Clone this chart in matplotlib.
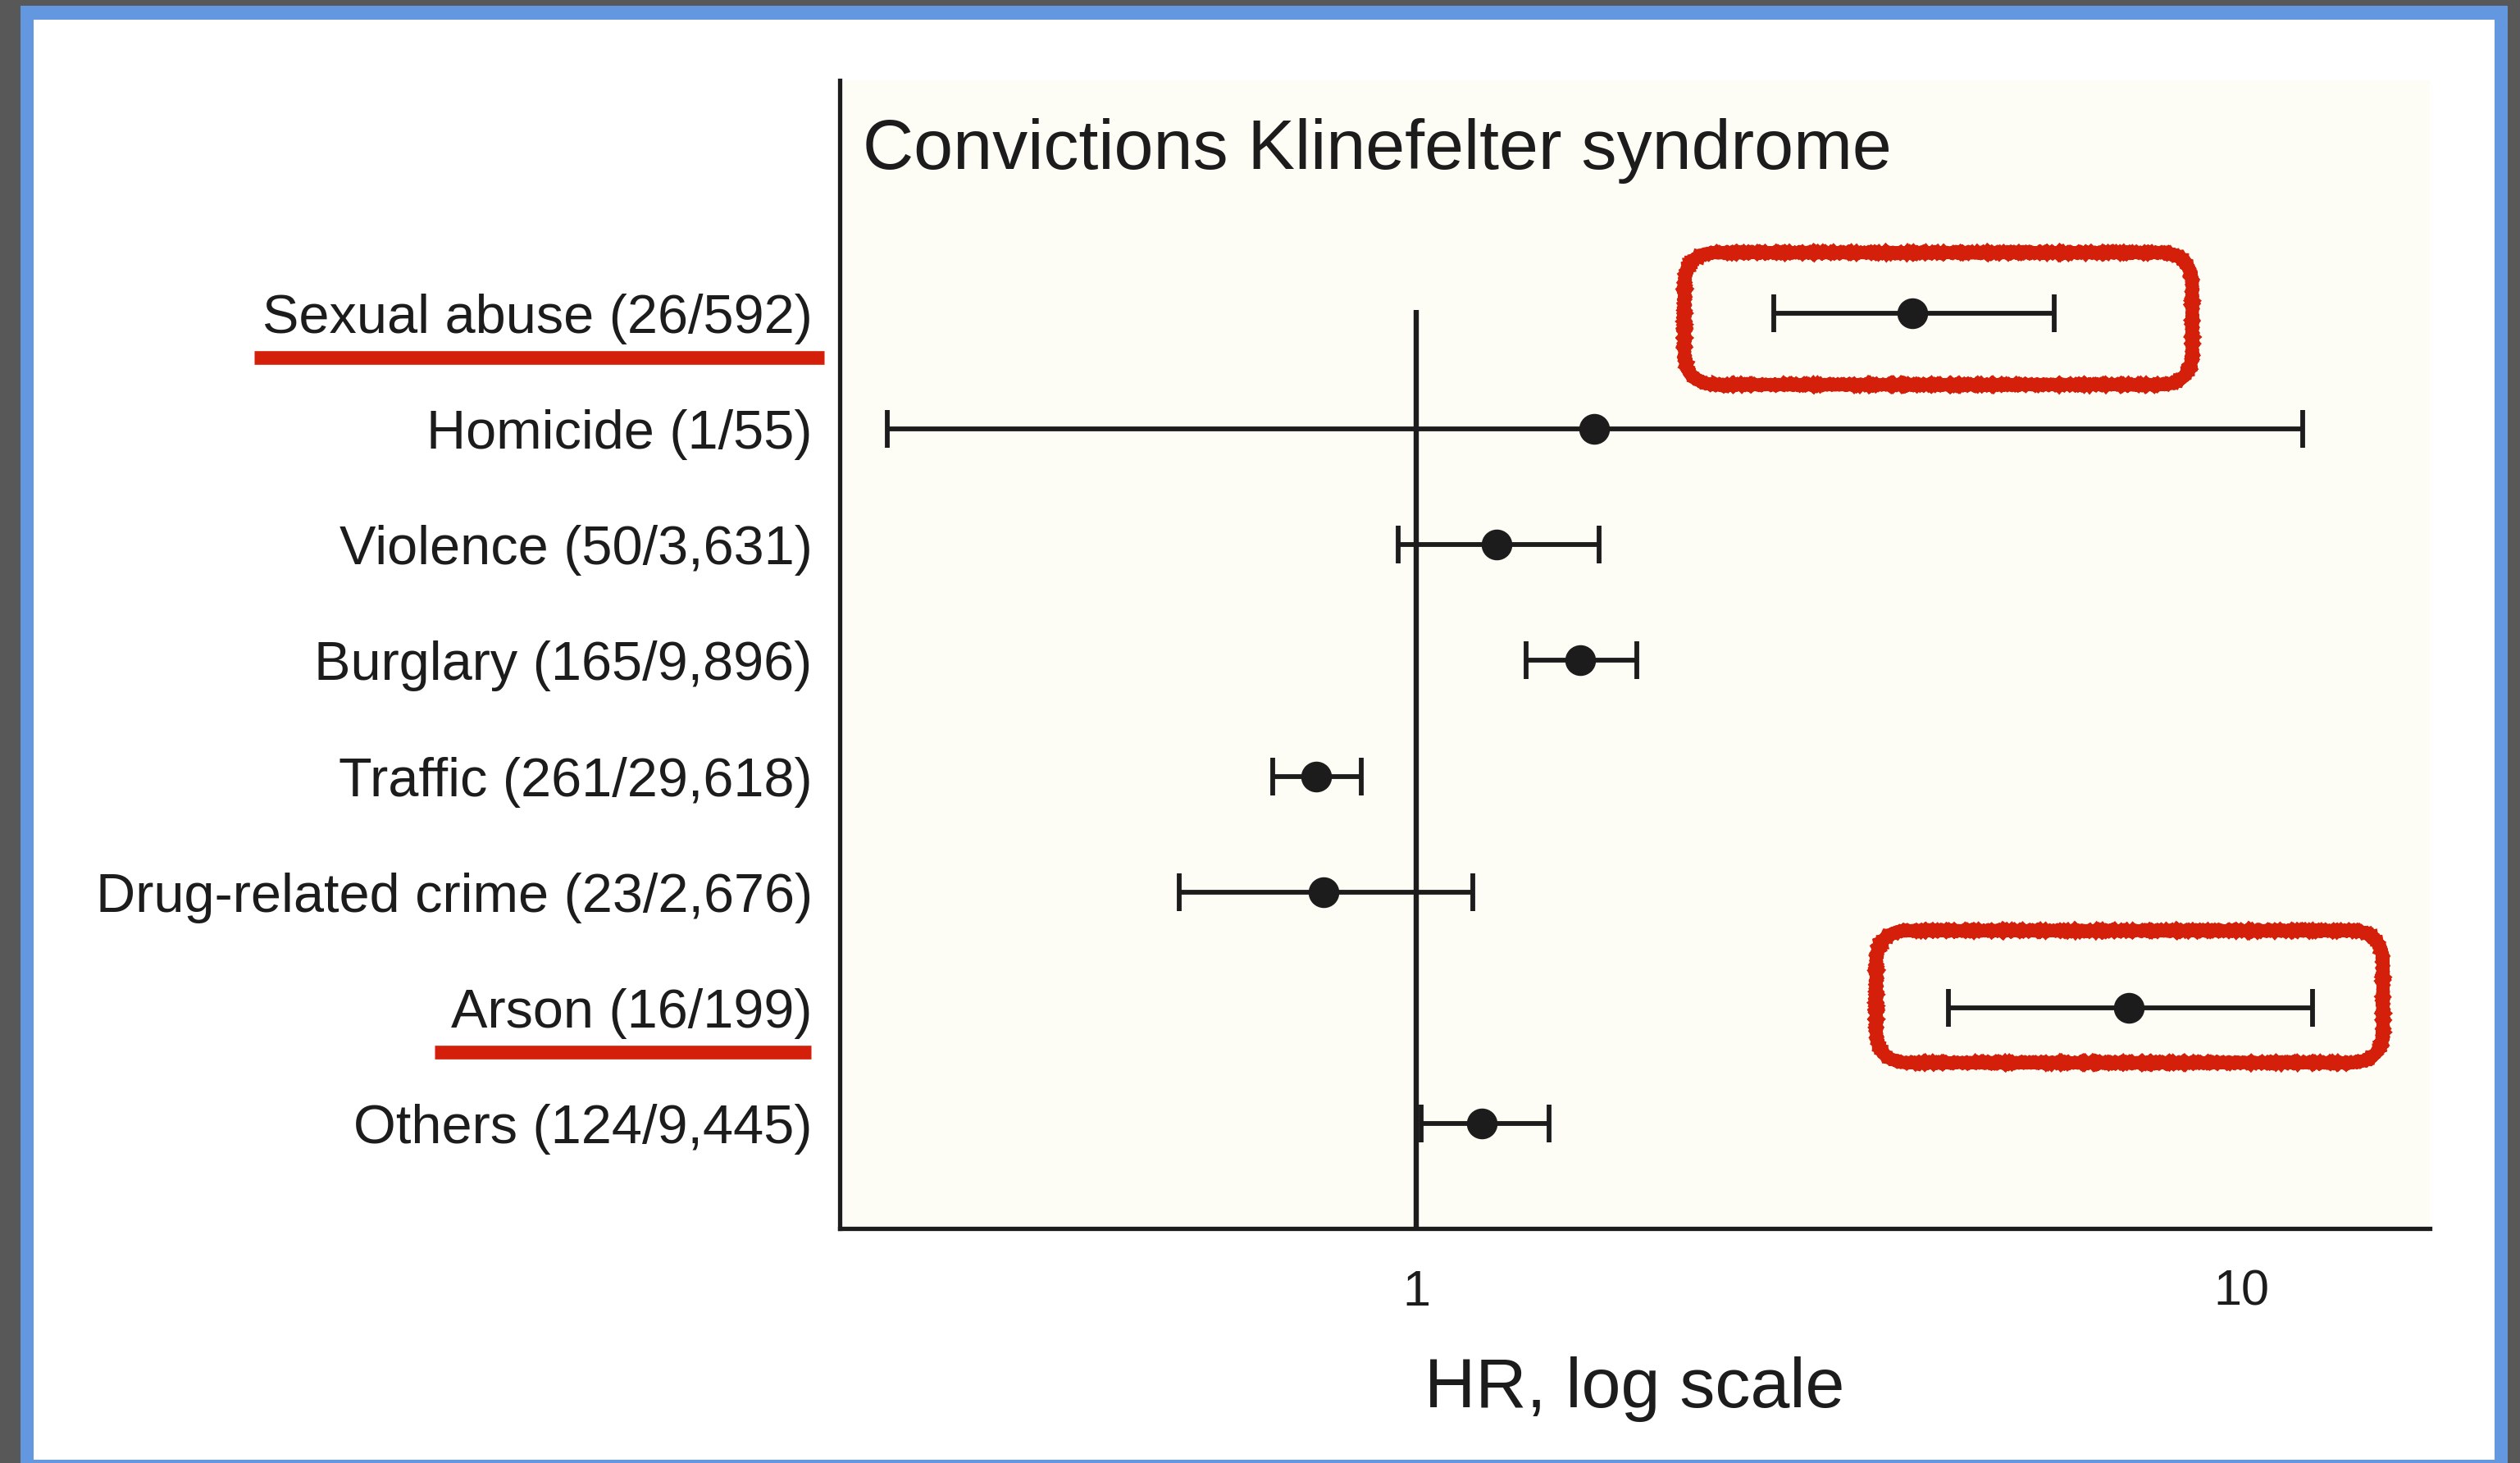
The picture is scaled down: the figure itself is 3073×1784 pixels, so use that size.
import matplotlib
matplotlib.use("Agg")
import matplotlib.pyplot as plt
from matplotlib.patches import Rectangle, FancyBboxPatch
from matplotlib.lines import Line2D
from matplotlib.ticker import NullLocator
from matplotlib.transforms import IdentityTransform
import numpy as np

plt.rcParams['font.family'] = ['Liberation Sans', 'DejaVu Sans']

# data (HR with 95% CI)
labels = ["Sexual abuse (26/592)", "Homicide (1/55)", "Violence (50/3,631)",
          "Burglary (165/9,896)", "Traffic (261/29,618)",
          "Drug-related crime (23/2,676)", "Arson (16/199)", "Others (124/9,445)"]
hr = np.array([3.99, 1.64, 1.25, 1.58, 0.756, 0.772, 7.29, 1.20])
ci_low = np.array([2.71, 0.2285, 0.951, 1.359, 0.670, 0.516, 4.41, 1.014])
ci_high = np.array([5.93, 11.85, 1.663, 1.851, 0.858, 1.169, 12.18, 1.446])
xtick_vals = [1, 10]
xtick_labels = ["1", "10"]
highlight_rows = [0, 6]

title = "Convictions Klinefelter syndrome"
xlabel = "HR, log scale"

INK = '#1c1c1c'
RED = '#d41f0a'
W, H = 3073, 1784

fig = plt.figure(figsize=(W / 100, H / 100), dpi=100)
fig.patch.set_facecolor('#585858')


def frame_rect(x0, y0, x1, y1, color):
    fig.patches.append(Rectangle((x0 / W, 1 - y1 / H), (x1 - x0) / W, (y1 - y0) / H,
                                 transform=fig.transFigure, facecolor=color,
                                 edgecolor='none', zorder=-10))


# screenshot frame: blue border around the white slide
frame_rect(25, 7, 3058, H + 10, '#6398e0')
frame_rect(41, 24, 3042, 1780, 'white')

ax = fig.add_axes([1024 / W, 1 - 1498 / H, (2963 - 1024) / W, (1498 - 98) / H])
ax.set_facecolor('#fdfdf6')
ax.set_xscale('log')
ax.set_xlim(0.2, 16.9)
ax.set_ylim(7.907, -2.013)

y = np.arange(len(labels))
ax.vlines(1, -0.03, 7.907, color=INK, lw=4.6, zorder=2)
ax.errorbar(hr, y, xerr=[hr - ci_low, ci_high - hr], fmt='o', color=INK,
            ms=26, elinewidth=4.2, capsize=16.5, capthick=4.2, zorder=3)

for side in ['top', 'right']:
    ax.spines[side].set_visible(False)
for side in ['left', 'bottom']:
    ax.spines[side].set_linewidth(3.8)
    ax.spines[side].set_color(INK)

ax.set_yticks(y, labels)
ax.tick_params(axis='y', length=0, pad=24, labelsize=48, labelcolor=INK)
ax.set_xticks(xtick_vals, xtick_labels)
ax.xaxis.set_minor_locator(NullLocator())
ax.tick_params(axis='x', length=0, pad=36, labelsize=44, labelcolor=INK)
ax.set_xlabel(xlabel, fontsize=62, labelpad=35, color=INK)

ax.text(0.0145, 0.923, title, transform=ax.transAxes, fontsize=62,
        ha='left', va='baseline', color=INK)

# red markup: underlined labels and hand-drawn boxes round the CIs
fig.canvas.draw()
renderer = fig.canvas.get_renderer()
ticklabels = ax.get_yticklabels()
box_pads = [(109, 168, 74, 87), (88, 86, 94, 67)]  # left, right, top, bottom (px)
underline_pads = [(10, 14), (20, -2)]
for row, pads, upad in zip(highlight_rows, box_pads, underline_pads):
    bb = ticklabels[row].get_window_extent(renderer)
    yc = ax.transData.transform((1, row))[1]
    uy = yc - 54
    fig.add_artist(Line2D([bb.x0 - upad[0], bb.x1 + upad[1]], [uy, uy], color=RED, lw=12,
                          solid_capstyle='butt', transform=IdentityTransform()))

    xl = ax.transData.transform((ci_low[row], row))[0] - pads[0]
    xr = ax.transData.transform((ci_high[row], row))[0] + pads[1]
    yt = yc + pads[2]
    yb = yc - pads[3]
    box = FancyBboxPatch((xl, yb), xr - xl, yt - yb,
                         boxstyle='round,pad=0,rounding_size=40',
                         facecolor='none', edgecolor=RED, lw=11,
                         transform=IdentityTransform())
    box.set_sketch_params(scale=0.6, length=3, randomness=2)
    fig.add_artist(box)

fig.savefig('out.png', dpi=100, facecolor=fig.get_facecolor())
